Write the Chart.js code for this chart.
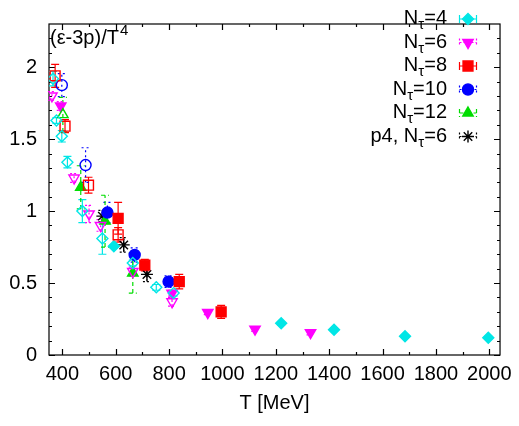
<!DOCTYPE html>
<html><head><meta charset="utf-8">
<script src="https://cdn.jsdelivr.net/npm/chart.js@4/dist/chart.umd.min.js"></script>
<style>html,body{margin:0;padding:0;background:#fff}#wrap{width:519px;height:426px;position:relative}</style>
</head><body><div id="wrap"><canvas id="c" width="519" height="426"></canvas></div>
<script>
const FONT = '"Liberation Sans", Arial, Helvetica, sans-serif';
const xTickLabels = [400, 600, 800, 1000, 1200, 1400, 1600, 1800, 2000];
const yTickLabels = [0, 0.5, 1, 1.5, 2];

// N_tau = 4 (cyan diamonds)
const nt4OpenT = [365, 378, 398, 419, 475, 550, 664, 752, 817];
const nt4OpenV = [1.92, 1.63, 1.52, 1.34, 1.00, 0.81, 0.64, 0.47, 0.43];
const nt4OpenE = [0.05, 0.02, 0.04, 0.04, 0.08, 0.11, 0.02, 0.02, 0.02];
const nt4FillT = [593, 1220, 1418, 1684, 1996];
const nt4FillV = [0.755, 0.22, 0.175, 0.13, 0.12];
const nt4FillE = [0.01, 0.01, 0.01, 0.01, 0.01];
// N_tau = 6 (magenta down triangles)
const nt6OpenT = [361, 444, 500, 543, 664, 811];
const nt6OpenV = [1.80, 1.23, 0.98, 0.90, 0.58, 0.37];
const nt6OpenE = [0.03, 0.03, 0.06, 0.04, 0.03, 0.03];
const nt6FillT = [394, 811, 945, 1122, 1330];
const nt6FillV = [1.73, 0.43, 0.295, 0.18, 0.155];
const nt6FillE = [0.03, 0.02, 0.015, 0.015, 0.015];
// N_tau = 8 (red squares)
const nt8OpenT = [373, 410, 498, 609];
const nt8OpenV = [1.94, 1.59, 1.18, 0.835];
const nt8OpenE = [0.08, 0.045, 0.055, 0.05];
const nt8FillT = [609, 709, 838, 995];
const nt8FillV = [0.95, 0.625, 0.51, 0.30];
const nt8FillE = [0.11, 0.04, 0.05, 0.045];
// N_tau = 10 (blue circles)
const nt10OpenT = [398, 487];
const nt10OpenV = [1.875, 1.32];
const nt10OpenE = [0.08, 0.12];
const nt10FillT = [569, 671, 798];
const nt10FillV = [0.99, 0.695, 0.51];
const nt10FillE = [0.07, 0.05, 0.04];
// N_tau = 12 (green triangles)
const nt12OpenT = [402];
const nt12OpenV = [1.67];
const nt12OpenE = [0.12];
const nt12FillT = [469, 560, 664];
const nt12FillV = [1.165, 0.93, 0.57];
const nt12FillE = [0.15, 0.18, 0.14];
// p4, N_tau = 6 (black asterisks)
const p4T = [550, 630, 717];
const p4V = [0.965, 0.765, 0.56];
const p4E = [0.04, 0.05, 0.05];

const C4 = '#00e6e6', C6 = '#ff00ff', C8 = '#ff0000', C10 = '#0000ff', C12 = '#00dd00', CP = '#000000';

function pts(T, V) { return T.map((t, i) => ({x: t, y: V[i]})); }
function ds(T, V, E, color, style, filled, radius, rot, dash) {
  return {
    data: pts(T, V), errs: E, errDash: dash, errColor: color,
    pointStyle: style, pointRotation: rot || 0, pointRadius: radius, pointHoverRadius: radius,
    borderColor: color, backgroundColor: filled ? color : 'rgba(0,0,0,0)',
    pointBorderWidth: 1.4, showLine: false
  };
}
const datasets = [
  ds(nt4OpenT, nt4OpenV, nt4OpenE, C4, 'rectRot', false, 5.5, 0, []),
  ds(nt6OpenT, nt6OpenV, nt6OpenE, C6, 'triangle', false, 6, 180, [2, 2]),
  ds(nt8OpenT, nt8OpenV, nt8OpenE, C8, 'rect', false, 7, 0, []),
  ds(nt10OpenT, nt10OpenV, nt10OpenE, C10, 'circle', false, 5.5, 0, [2, 3]),
  ds(nt12OpenT, nt12OpenV, nt12OpenE, C12, 'triangle', false, 6, 0, [4, 3]),
  ds(nt4FillT, nt4FillV, nt4FillE, C4, 'rectRot', true, 5.5, 0, []),
  ds(nt6FillT, nt6FillV, nt6FillE, C6, 'triangle', true, 6, 180, [2, 2]),
  ds(nt8FillT, nt8FillV, nt8FillE, C8, 'rect', true, 7, 0, []),
  ds(nt10FillT, nt10FillV, nt10FillE, C10, 'circle', true, 5.5, 0, [2, 3]),
  ds(nt12FillT, nt12FillV, nt12FillE, C12, 'triangle', true, 6, 0, [4, 3]),
  ds(p4T, p4V, p4E, CP, 'star', false, 6, 0, [2, 2])
];

function drawMarker(ctx, style, x, y, r, rot, color, filled) {
  ctx.save();
  ctx.strokeStyle = color; ctx.fillStyle = color; ctx.lineWidth = 1.4; ctx.setLineDash([]);
  ctx.beginPath();
  if (style === 'rectRot') {
    ctx.moveTo(x, y - r); ctx.lineTo(x + r, y); ctx.lineTo(x, y + r); ctx.lineTo(x - r, y); ctx.closePath();
  } else if (style === 'rect') {
    const s = r * Math.SQRT1_2; ctx.rect(x - s, y - s, 2 * s, 2 * s);
  } else if (style === 'circle') {
    ctx.arc(x, y, r, 0, Math.PI * 2);
  } else if (style === 'triangle') {
    const a0 = (rot === 180 ? Math.PI / 2 : -Math.PI / 2);
    for (let k = 0; k < 3; k++) {
      const a = a0 + k * 2 * Math.PI / 3;
      const px = x + r * Math.cos(a), py = y + r * Math.sin(a);
      if (k === 0) ctx.moveTo(px, py); else ctx.lineTo(px, py);
    }
    ctx.closePath();
  } else if (style === 'star') {
    for (let k = 0; k < 4; k++) {
      const a = k * Math.PI / 4;
      ctx.moveTo(x - r * Math.cos(a), y - r * Math.sin(a));
      ctx.lineTo(x + r * Math.cos(a), y + r * Math.sin(a));
    }
    ctx.stroke(); ctx.restore(); return;
  }
  if (filled) ctx.fill();
  ctx.stroke();
  ctx.restore();
}

const BIG = 20, SMALL = 15;
const framePlugin = {
  id: 'frame',
  beforeDatasetsDraw(chart) {
    const {ctx, chartArea: a, scales: {x, y}} = chart;
    ctx.save();
    ctx.strokeStyle = '#000'; ctx.lineWidth = 1.2; ctx.setLineDash([]);
    ctx.strokeRect(a.left, a.top, a.right - a.left, a.bottom - a.top);
    ctx.beginPath();
    for (let v = 400; v <= 2000; v += 100) {
      const px = Math.round(x.getPixelForValue(v)) + 0.5;
      const len = (v % 200 === 0) ? 6 : 3;
      ctx.moveTo(px, a.bottom); ctx.lineTo(px, a.bottom - len);
      ctx.moveTo(px, a.top); ctx.lineTo(px, a.top + len);
    }
    for (let k = 0; k <= 22; k++) {
      const v = k / 10;
      const py = Math.round(y.getPixelForValue(v)) + 0.5;
      const len = (k % 5 === 0) ? 6 : 3;
      ctx.moveTo(a.left, py); ctx.lineTo(a.left + len, py);
      ctx.moveTo(a.right, py); ctx.lineTo(a.right - len, py);
    }
    ctx.stroke();
    // error bars
    chart.data.datasets.forEach(d => {
      ctx.strokeStyle = d.errColor; ctx.lineWidth = 1.2; ctx.setLineDash(d.errDash);
      ctx.beginPath();
      d.data.forEach((p, i) => {
        const e = d.errs[i];
        const px = x.getPixelForValue(p.x);
        const y1 = y.getPixelForValue(p.y - e), y2 = y.getPixelForValue(p.y + e);
        ctx.moveTo(px, y1); ctx.lineTo(px, y2);
        ctx.moveTo(px - 4, y1); ctx.lineTo(px + 4, y1);
        ctx.moveTo(px - 4, y2); ctx.lineTo(px + 4, y2);
      });
      ctx.stroke();
    });
    ctx.restore();
  },
  afterDraw(chart) {
    const {ctx, chartArea: a} = chart;
    ctx.save();
    ctx.fillStyle = '#000'; ctx.textBaseline = 'alphabetic';
    // title
    ctx.font = BIG + 'px ' + FONT;
    ctx.textAlign = 'left';
    const t1 = '(\u03b5-3p)/T';
    ctx.fillText(t1, a.left + 1, 44);
    const w1 = ctx.measureText(t1).width;
    ctx.font = SMALL + 'px ' + FONT;
    ctx.fillText('4', a.left + 1 + w1 + 1, 35);
    // legend
    const entries = [
      {pre: 'N', post: '=4', color: C4, style: 'rectRot', r: 5.5, rot: 0, filled: true, dash: []},
      {pre: 'N', post: '=6', color: C6, style: 'triangle', r: 6, rot: 180, filled: true, dash: [2, 2]},
      {pre: 'N', post: '=8', color: C8, style: 'rect', r: 7, rot: 0, filled: true, dash: []},
      {pre: 'N', post: '=10', color: C10, style: 'circle', r: 5.5, rot: 0, filled: true, dash: [2, 3]},
      {pre: 'N', post: '=12', color: C12, style: 'triangle', r: 6, rot: 0, filled: true, dash: [4, 3]},
      {pre: 'p4, N', post: '=6', color: CP, style: 'star', r: 6, rot: 0, filled: false, dash: [2, 2]}
    ];
    const xr = 447, mx = 468;
    entries.forEach((e, i) => {
      const yc = 19 + i * 23.5;
      const base = yc + 5;
      ctx.font = BIG + 'px ' + FONT;
      const wPost = ctx.measureText(e.post).width;
      const wPre = ctx.measureText(e.pre).width;
      ctx.font = SMALL + 'px ' + FONT;
      const wSub = ctx.measureText('\u03c4').width;
      let xs = xr - wPost - wSub - wPre;
      ctx.fillStyle = '#000';
      ctx.font = BIG + 'px ' + FONT; ctx.textAlign = 'left';
      ctx.fillText(e.pre, xs, base);
      ctx.font = SMALL + 'px ' + FONT;
      ctx.fillText('\u03c4', xs + wPre, base + 5);
      ctx.font = BIG + 'px ' + FONT;
      ctx.fillText(e.post, xs + wPre + wSub, base);
      // sample
      ctx.strokeStyle = e.color; ctx.lineWidth = 1.2; ctx.setLineDash(e.dash);
      ctx.beginPath();
      ctx.moveTo(mx - 8.5, yc); ctx.lineTo(mx + 8.5, yc);
      ctx.moveTo(mx - 8.5, yc - 4); ctx.lineTo(mx - 8.5, yc + 4);
      ctx.moveTo(mx + 8.5, yc - 4); ctx.lineTo(mx + 8.5, yc + 4);
      ctx.stroke();
      drawMarker(ctx, e.style, mx, yc, e.r, e.rot, e.color, e.filled);
    });
    ctx.restore();
  }
};

new Chart(document.getElementById('c'), {
  type: 'scatter',
  data: {datasets},
  options: {
    responsive: false, animation: false,
    layout: {padding: {top: 3, right: 17, left: 0, bottom: 0}},
    plugins: {legend: {display: false}, tooltip: {enabled: false}},
    scales: {
      x: {
        type: 'linear', min: 350, max: 2040,
        grid: {display: false, drawTicks: false}, border: {display: false},
        afterBuildTicks: s => { s.ticks = xTickLabels.map(v => ({value: v})); },
        afterFit: s => { s.height = 71; },
        ticks: {color: '#000', font: {family: FONT, size: BIG}, padding: 7, maxRotation: 0, autoSkip: false,
                callback: v => String(v)},
        title: {display: true, text: 'T [MeV]', color: '#000', font: {family: FONT, size: BIG}, padding: {top: 4, bottom: 11}}
      },
      y: {
        type: 'linear', min: 0, max: 2.3,
        grid: {display: false, drawTicks: false}, border: {display: false},
        afterBuildTicks: s => { s.ticks = yTickLabels.map(v => ({value: v})); },
        afterFit: s => { s.width = 49; },
        ticks: {color: '#000', font: {family: FONT, size: BIG}, padding: 12, callback: v => String(v)}
      }
    }
  },
  plugins: [framePlugin]
});
</script>
</body></html>
